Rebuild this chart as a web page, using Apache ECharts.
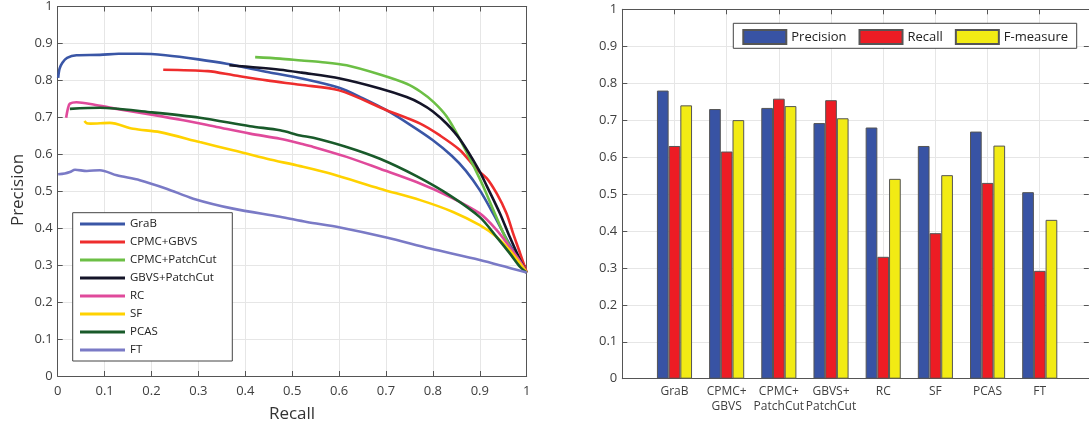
<!DOCTYPE html>
<html><head><meta charset="utf-8">
<script src="https://cdn.jsdelivr.net/npm/echarts@6/dist/echarts.min.js"></script>
<style>html,body{margin:0;padding:0;background:#fff}#c{width:1089px;height:425px}</style>
</head><body><div id="c"></div>
<script>
// ---- Left chart: precision-recall curves ([recall, precision]) ----
const curveNames = ['GraB', 'CPMC+GBVS', 'CPMC+PatchCut', 'GBVS+PatchCut', 'RC', 'SF', 'PCAS', 'FT'];
const curveColors = ['#3a56a6', '#ee2d2d', '#6cbf45', '#141428', '#e04a9b', '#ffd200', '#195a2a', '#7a7ac6'];
const grab = [[0.001,0.807],[0.004,0.832],[0.01,0.848],[0.02,0.861],[0.04,0.868],[0.09,0.869],[0.13,0.872],[0.175,0.872],[0.23,0.868],[0.30,0.857],[0.36,0.845],[0.45,0.822],[0.52,0.805],[0.60,0.780],[0.65,0.752],[0.70,0.720],[0.75,0.681],[0.80,0.638],[0.84,0.596],[0.87,0.556],[0.90,0.503],[0.93,0.436],[0.96,0.364],[1,0.28]];
const cpmcGbvs = [[0.225,0.829],[0.32,0.825],[0.375,0.814],[0.446,0.80],[0.517,0.788],[0.60,0.773],[0.70,0.720],[0.773,0.683],[0.815,0.651],[0.858,0.611],[0.893,0.560],[0.915,0.535],[0.936,0.494],[0.957,0.44],[0.971,0.386],[0.986,0.332],[1,0.28]];
const cpmcPatchCut = [[0.421,0.863],[0.474,0.859],[0.52,0.854],[0.56,0.850],[0.616,0.841],[0.687,0.816],[0.744,0.791],[0.773,0.770],[0.801,0.742],[0.829,0.703],[0.858,0.640],[0.89,0.560],[0.907,0.514],[0.932,0.44],[0.957,0.368],[0.979,0.314],[1,0.28]];
const gbvsPatchCut = [[0.366,0.841],[0.474,0.829],[0.52,0.821],[0.602,0.805],[0.687,0.778],[0.744,0.755],[0.773,0.738],[0.80,0.716],[0.83,0.682],[0.858,0.640],[0.897,0.560],[0.915,0.514],[0.943,0.44],[0.964,0.376],[0.986,0.314],[1,0.28]];
const rc = [[0.018,0.699],[0.022,0.725],[0.026,0.737],[0.04,0.741],[0.076,0.735],[0.126,0.723],[0.197,0.708],[0.268,0.692],[0.339,0.674],[0.41,0.656],[0.474,0.642],[0.517,0.629],[0.545,0.620],[0.616,0.593],[0.687,0.561],[0.765,0.525],[0.836,0.485],[0.90,0.44],[0.936,0.395],[0.964,0.349],[0.986,0.31],[1,0.28]];
const sf = [[0.057,0.690],[0.062,0.684],[0.07,0.683],[0.111,0.685],[0.161,0.669],[0.218,0.66],[0.303,0.633],[0.374,0.611],[0.446,0.588],[0.517,0.568],[0.581,0.548],[0.687,0.507],[0.773,0.476],[0.843,0.444],[0.9,0.408],[0.936,0.376],[0.964,0.34],[1,0.28]];
const pcas = [[0.026,0.723],[0.09,0.726],[0.197,0.714],[0.303,0.699],[0.41,0.676],[0.474,0.665],[0.517,0.651],[0.545,0.645],[0.616,0.620],[0.687,0.588],[0.765,0.541],[0.836,0.489],[0.90,0.43],[0.936,0.376],[0.964,0.332],[0.986,0.295],[1,0.28]];
const ft = [[0.001,0.546],[0.015,0.548],[0.026,0.552],[0.037,0.558],[0.062,0.555],[0.09,0.557],[0.126,0.543],[0.175,0.530],[0.232,0.507],[0.289,0.480],[0.374,0.453],[0.474,0.431],[0.531,0.417],[0.602,0.402],[0.701,0.375],[0.794,0.345],[0.9,0.314],[1,0.28]];
const curves = [grab, cpmcGbvs, cpmcPatchCut, gbvsPatchCut, rc, sf, pcas, ft];

// ---- Right chart: bars ----
const barCategories = ['GraB', 'CPMC+\nGBVS', 'CPMC+\nPatchCut', 'GBVS+\nPatchCut', 'RC', 'SF', 'PCAS', 'FT'];
const barNames = ['Precision', 'Recall', 'F-measure'];
const barColors = ['#3853a4', '#ed1c24', '#f2eb14'];
const precision = [0.78, 0.73, 0.733, 0.692, 0.68, 0.63, 0.669, 0.505];
const recall = [0.63, 0.615, 0.758, 0.754, 0.33, 0.394, 0.53, 0.292];
const fmeasure = [0.74, 0.70, 0.738, 0.705, 0.541, 0.551, 0.631, 0.43];
const barValues = [precision, recall, fmeasure];

const axisColor = '#555';
const labelColor = '#404040';
const gridColor = '#e6e6e6';

function valAxis(gridIndex, position, showLabel, showSplit, margin) {
  return {
    type: 'value', gridIndex, position, min: 0, max: 1, interval: 0.1,
    axisLine: { show: true, onZero: false, lineStyle: { color: axisColor, width: 1 } },
    axisTick: { show: true, inside: true, length: 5, lineStyle: { color: axisColor } },
    axisLabel: { show: showLabel, color: labelColor, fontSize: 13, margin: margin || 8 },
    splitLine: { show: showSplit, lineStyle: { color: gridColor, width: 1 } }
  };
}
function catAxis(position, showLabel, showSplit) {
  return {
    type: 'value', gridIndex: 1, position, min: 0, max: 8.94, interval: 1,
    axisLine: { show: true, onZero: false, lineStyle: { color: axisColor, width: 1 } },
    axisTick: { show: true, inside: true, length: 5, lineStyle: { color: axisColor } },
    axisLabel: { show: showLabel, color: labelColor, fontSize: 12, lineHeight: 14.5, margin: 6,
      showMaxLabel: false,
      formatter: v => barCategories[Math.round(v) - 1] || '' },
    splitLine: { show: showSplit, lineStyle: { color: gridColor, width: 1 } }
  };
}

const series = [];
curves.forEach((d, i) => {
  series.push({
    name: curveNames[i], type: 'line', xAxisIndex: 0, yAxisIndex: 0,
    data: d, showSymbol: false, smooth: 0.3,
    lineStyle: { color: curveColors[i], width: 2.6 }, itemStyle: { color: curveColors[i] }
  });
});
barValues.forEach((vals, i) => {
  series.push({
    name: barNames[i], type: 'bar', xAxisIndex: 2, yAxisIndex: 2,
    data: vals.map((v, k) => [k + 1, v]), barWidth: 11.7, barGap: '0%',
    itemStyle: { color: barColors[i], borderColor: '#555', borderWidth: 1 }
  });
});

const option = {
  animation: false,
  textStyle: { fontFamily: 'Open Sans' },
  grid: [
    { left: 57.7, top: 6, width: 469, height: 370 },
    { left: 622.3, top: 9.3, width: 466.5, height: 369.4 }
  ],
  xAxis: [
    valAxis(0, 'bottom', true, true, 9),
    valAxis(0, 'top', false, false),
    catAxis('bottom', true, true),
    catAxis('top', false, false)
  ],
  yAxis: [
    valAxis(0, 'left', true, true, 5),
    valAxis(0, 'right', false, false),
    valAxis(1, 'left', true, true, 5),
    valAxis(1, 'right', false, false)
  ],
  legend: [
    {
      data: curveNames, orient: 'vertical', left: 80, top: 215, padding: 0,
      itemWidth: 45, itemHeight: 3, itemGap: 0, icon: 'rect',
      textStyle: { fontSize: 11.5, lineHeight: 18, color: '#222', fontFamily: 'Open Sans' }
    },
    {
      data: barNames, orient: 'horizontal', left: 742.3, top: 29, padding: 0,
      itemWidth: 43, itemHeight: 14, itemGap: 12, icon: 'rect',
      textStyle: { fontSize: 13, lineHeight: 14, color: '#222', fontFamily: 'Open Sans' }
    }
  ],
  graphic: [
    { type: 'rect', z: 3, shape: { x: 72.7, y: 212.7, width: 159.6, height: 148.3 }, style: { fill: '#fff', stroke: '#444', lineWidth: 1 } },
    { type: 'rect', z: 3, shape: { x: 733.3, y: 23.3, width: 343.4, height: 25 }, style: { fill: '#fff', stroke: '#444', lineWidth: 1 } },
    { type: 'text', x: 292, y: 414, style: { text: 'Recall', fontSize: 17, fontFamily: 'Open Sans', fill: '#333', textAlign: 'center', textVerticalAlign: 'middle' } },
    { type: 'text', x: 18, y: 190, rotation: Math.PI / 2, style: { text: 'Precision', fontSize: 17, fontFamily: 'Open Sans', fill: '#333', textAlign: 'center', textVerticalAlign: 'middle' } }
  ],
  series
};
const chart = echarts.init(document.getElementById('c'), null, { renderer: 'canvas' });
chart.setOption(option);
</script></body></html>
